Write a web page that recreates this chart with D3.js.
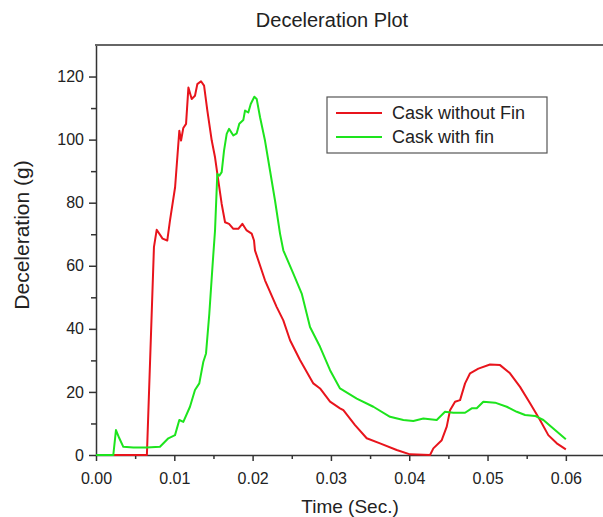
<!DOCTYPE html>
<html>
<head>
<meta charset="utf-8">
<script src="https://cdn.jsdelivr.net/npm/d3@7"></script>
<style>
  body { margin: 0; background: #fff; }
  svg { display: block; font-family: "Liberation Sans", Arial, sans-serif; }
  .axis path, .axis line { stroke: #333; stroke-width: 1.5; }
  .axis text { fill: #222; font-size: 16px; }
</style>
</head>
<body>
<div id="chart"></div>
<script>
// time in seconds, deceleration in g
const timeNoFin = [0, 0.0025, 0.0065, 0.0074, 0.00775, 0.0085, 0.0091, 0.00945, 0.0101, 0.01064, 0.01086,
  0.01115, 0.0115, 0.0118, 0.01222, 0.01264, 0.01294, 0.01341, 0.0138, 0.01422, 0.01478, 0.0152,
  0.01562, 0.01605, 0.01648, 0.01699, 0.01754, 0.01817, 0.01869, 0.01924, 0.01988, 0.02018, 0.0203,
  0.02158, 0.02308, 0.02392, 0.02478, 0.02605, 0.02775, 0.02861, 0.02989, 0.03116, 0.03159, 0.03308,
  0.03457, 0.03627, 0.0384, 0.0401, 0.04266, 0.04308, 0.04415, 0.04479, 0.04521, 0.04585, 0.04649,
  0.04713, 0.04777, 0.04883, 0.05032, 0.0516, 0.05287, 0.05415, 0.05543, 0.0567, 0.05776, 0.05884, 0.06];
const decelNoFin = [0, 0, 0, 65.9, 71.4, 68.6, 68, 74.4, 84.9, 102.8, 99.7,
  103.7, 105, 116.5, 112.9, 113.9, 117.6, 118.5, 117.1, 109.2, 99.7, 94.4,
  87, 79.6, 73.8, 73.3, 71.7, 71.7, 73.3, 71.2, 70.2, 68, 64.9,
  55.4, 46.9, 42.7, 36.4, 30.1, 22.7, 21.1, 16.9, 14.8, 14.2, 9.5,
  5.3, 3.7, 1.6, 0.2, 0, 2.1, 4.7, 9, 14.2, 16.9, 17.4,
  22.7, 25.9, 27.4, 28.7, 28.5, 25.9, 21.6, 16.4, 11.1, 6.3, 3.7, 1.8];

const timeFin = [0, 0.00221, 0.00255, 0.00298, 0.00349, 0.00477, 0.00647, 0.00817, 0.00924, 0.01009, 0.01064,
  0.01115, 0.012, 0.01264, 0.01319, 0.0137, 0.01405, 0.01447, 0.0149, 0.0152, 0.01549, 0.01575,
  0.01605, 0.01635, 0.01669, 0.01699, 0.01754, 0.01797, 0.0183, 0.01881, 0.01903, 0.01945, 0.01976,
  0.02022, 0.02052, 0.02095, 0.02158, 0.02222, 0.02286, 0.0235, 0.02392, 0.0252, 0.02627, 0.02733,
  0.02861, 0.02989, 0.03116, 0.0333, 0.03542, 0.03755, 0.03925, 0.04052, 0.0418, 0.04351, 0.04457,
  0.04563, 0.04713, 0.04798, 0.04862, 0.04946, 0.05096, 0.05245, 0.05373, 0.05479, 0.05607, 0.05713,
  0.05862, 0.06];
const decelFin = [0, 0, 7.9, 5.3, 2.6, 2.4, 2.4, 2.6, 5.3, 6.3, 11.1,
  10.5, 15.3, 20.6, 22.7, 29.5, 32.2, 44.8, 60.7, 71.2, 89.1, 88.6,
  89.7, 96.5, 101.8, 103.4, 101.3, 102, 105, 106.2, 109.2, 108.6, 111.3,
  113.6, 112.9, 107.1, 99.7, 90.2, 80.7, 70.2, 64.9, 57.5, 51.2, 40.6,
  34.3, 26.9, 21.1, 17.9, 15.3, 12.1, 11.1, 10.8, 11.6, 11.1, 13.7,
  13.4, 13.4, 14.8, 14.8, 16.9, 16.6, 15.3, 13.7, 12.7, 12.4, 11.1,
  7.9, 5];

const seriesNames = ["Cask without Fin", "Cask with fin"];
const seriesColors = ["#e8141c", "#1de41d"];
const xTicks = [0, 0.01, 0.02, 0.03, 0.04, 0.05, 0.06];
const yTicks = [0, 20, 40, 60, 80, 100, 120];

const w = 603;
const h = 517;
const padLeft = 96, padTop = 45, axisY = 455;

const xScale = d3.scaleLinear().domain([0, 0.065]).range([padLeft, 605]);
const yScale = d3.scaleLinear().domain([0, 130]).range([axisY, padTop]);

const svg = d3.select("#chart")
  .append("svg")
  .attr("width", w)
  .attr("height", h);

// minor ticks first, majors drawn over
svg.append("g")
  .attr("class", "axis")
  .attr("transform", "translate(0," + axisY + ")")
  .call(d3.axisBottom(xScale).tickValues(d3.range(0.005, 0.065, 0.01)).tickSize(4).tickFormat(""))
  .call(g => g.select(".domain").remove());

svg.append("g")
  .attr("class", "axis")
  .attr("transform", "translate(" + padLeft + ",0)")
  .call(d3.axisLeft(yScale).tickValues(d3.range(10, 130, 20)).tickSize(5).tickFormat(""))
  .call(g => g.select(".domain").remove());

svg.append("g")
  .attr("class", "axis")
  .attr("transform", "translate(0," + axisY + ")")
  .call(d3.axisBottom(xScale).tickValues(xTicks).tickSize(6).tickSizeOuter(0).tickPadding(12)
    .tickFormat(d3.format(".2f")));

svg.append("g")
  .attr("class", "axis")
  .attr("transform", "translate(" + padLeft + ",0)")
  .call(d3.axisLeft(yScale).tickValues(yTicks).tickSize(7).tickSizeOuter(0).tickPadding(5));

// top frame line
svg.append("line")
  .attr("x1", padLeft - 1).attr("x2", w)
  .attr("y1", padTop).attr("y2", padTop)
  .attr("stroke", "#666")
  .attr("stroke-width", 2);

const line = d3.line()
  .x(d => xScale(d[0]))
  .y(d => yScale(d[1]));

svg.append("path")
  .datum(d3.zip(timeNoFin, decelNoFin))
  .attr("d", line)
  .attr("fill", "none")
  .attr("stroke", seriesColors[0])
  .attr("stroke-width", 2)
  .attr("stroke-linejoin", "round");

svg.append("path")
  .datum(d3.zip(timeFin, decelFin))
  .attr("d", line)
  .attr("fill", "none")
  .attr("stroke", seriesColors[1])
  .attr("stroke-width", 2)
  .attr("stroke-linejoin", "round");

// titles
svg.append("text")
  .attr("x", 332).attr("y", 27)
  .attr("text-anchor", "middle")
  .attr("font-size", 20)
  .attr("fill", "#222")
  .text("Deceleration Plot");

svg.append("text")
  .attr("x", 350).attr("y", 513)
  .attr("text-anchor", "middle")
  .attr("font-size", 19)
  .attr("fill", "#222")
  .text("Time (Sec.)");

svg.append("text")
  .attr("transform", "translate(29,235) rotate(-90)")
  .attr("text-anchor", "middle")
  .attr("font-size", 21)
  .attr("fill", "#222")
  .text("Deceleration (g)");

// legend
const legend = svg.append("g").attr("transform", "translate(327,97)");

legend.append("rect")
  .attr("width", 220).attr("height", 56)
  .attr("fill", "#fff")
  .attr("stroke", "#555")
  .attr("stroke-width", 1.2);

seriesNames.forEach((name, i) => {
  legend.append("line")
    .attr("x1", 9).attr("x2", 55)
    .attr("y1", 16 + i * 24).attr("y2", 16 + i * 24)
    .attr("stroke", seriesColors[i])
    .attr("stroke-width", 2);
  legend.append("text")
    .attr("x", 65).attr("y", 22 + i * 24)
    .attr("font-size", 18)
    .attr("fill", "#222")
    .text(name);
});
</script>
</body>
</html>
